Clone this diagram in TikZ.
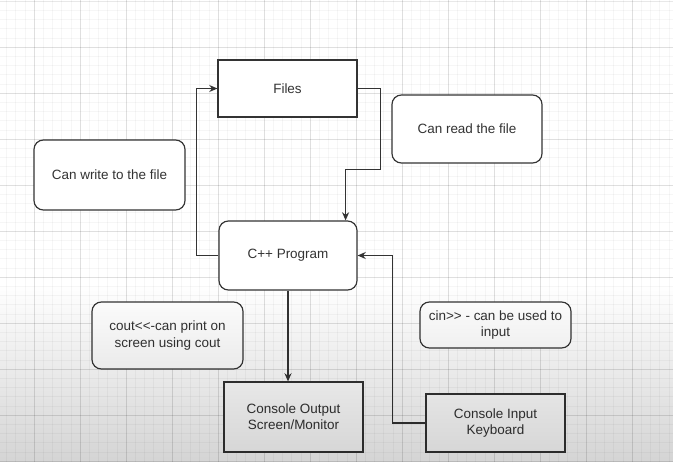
\documentclass[tikz,border=0pt]{standalone}
\usepackage{fontspec}
\setmainfont{Liberation Sans}[Ligatures=TeXOff]
\usetikzlibrary{arrows.meta,positioning,fadings}
\definecolor{ink}{HTML}{333333}

\begin{document}
\begin{tikzpicture}[
  x=0.03cm, y=-0.03cm,
  sq/.style={draw=ink, line width=1pt, fill=white, text=ink, inner sep=0pt,
             font=\fontsize{11.5}{13.8}\selectfont, align=center},
  rnd/.style={sq, rounded corners=8pt},
  ar/.style={draw=ink, line width=1pt, -{Stealth[length=7pt,width=6pt]}},
  gmaj/.style={black, opacity=0.09, line width=0.6pt},
  gmin/.style={black, opacity=0.035, line width=0.4pt},
]
\useasboundingbox (0,0) rectangle (673,462);
\fill[white] (0,0) rectangle (673,462);

% Raster im Hintergrund
\foreach \gx in {6.4,15.6,...,673} \draw[gmin] (\gx,0) -- (\gx,462);
\foreach \gy in {10.2,19.4,...,462} \draw[gmin] (0,\gy) -- (673,\gy);
\foreach \gx in {34,80,...,673} \draw[gmaj] (\gx,0) -- (\gx,462);
\foreach \gy in {1,47,...,462} \draw[gmaj] (0,\gy) -- (673,\gy);

% Knoten
\node[sq, minimum width=4.17cm, minimum height=1.71cm] (files) at (287.5,88.5) {Files};
\node[rnd, minimum width=4.5cm, minimum height=2.04cm] (read) at (467,129) {Can read the file};
\node[rnd, minimum width=4.53cm, minimum height=2.1cm] (write) at (109.5,175) {Can write to the file};
\node[rnd, minimum width=4.14cm, minimum height=2.07cm] (cpp) at (288,255.5) {C++ Program};
\node[rnd, minimum width=4.53cm, minimum height=2.01cm] (cout) at (167.5,335.5) {cout<<-can print on\\screen using cout};
\node[rnd, minimum width=4.53cm, minimum height=1.38cm] (cin) at (495.5,325) {cin>> - can be used to\\input};
\node[sq, minimum width=4.17cm, minimum height=2.1cm] (conout) at (293.5,417) {Console Output\\Screen/Monitor};
\node[sq, minimum width=4.17cm, minimum height=1.74cm] (conin) at (495.5,423) {Console Input\\Keyboard};

% Verbindungen
\draw[ar] (cpp.west) -- ++(-22,0) |- (files.west);
\draw[ar] (files.east) -| ++(23,81) -| ([xshift=-0.36cm]cpp.north east);
\draw[ar] (cpp.south) -- (cpp.south |- conout.north);
\draw[ar] (conin.west) -- ++(-33,0) |- (cpp.east);

% Abdunklung unten
\fill[black, opacity=0.17, path fading=north] (0,285) rectangle (673,462);
\end{tikzpicture}
\end{document}
